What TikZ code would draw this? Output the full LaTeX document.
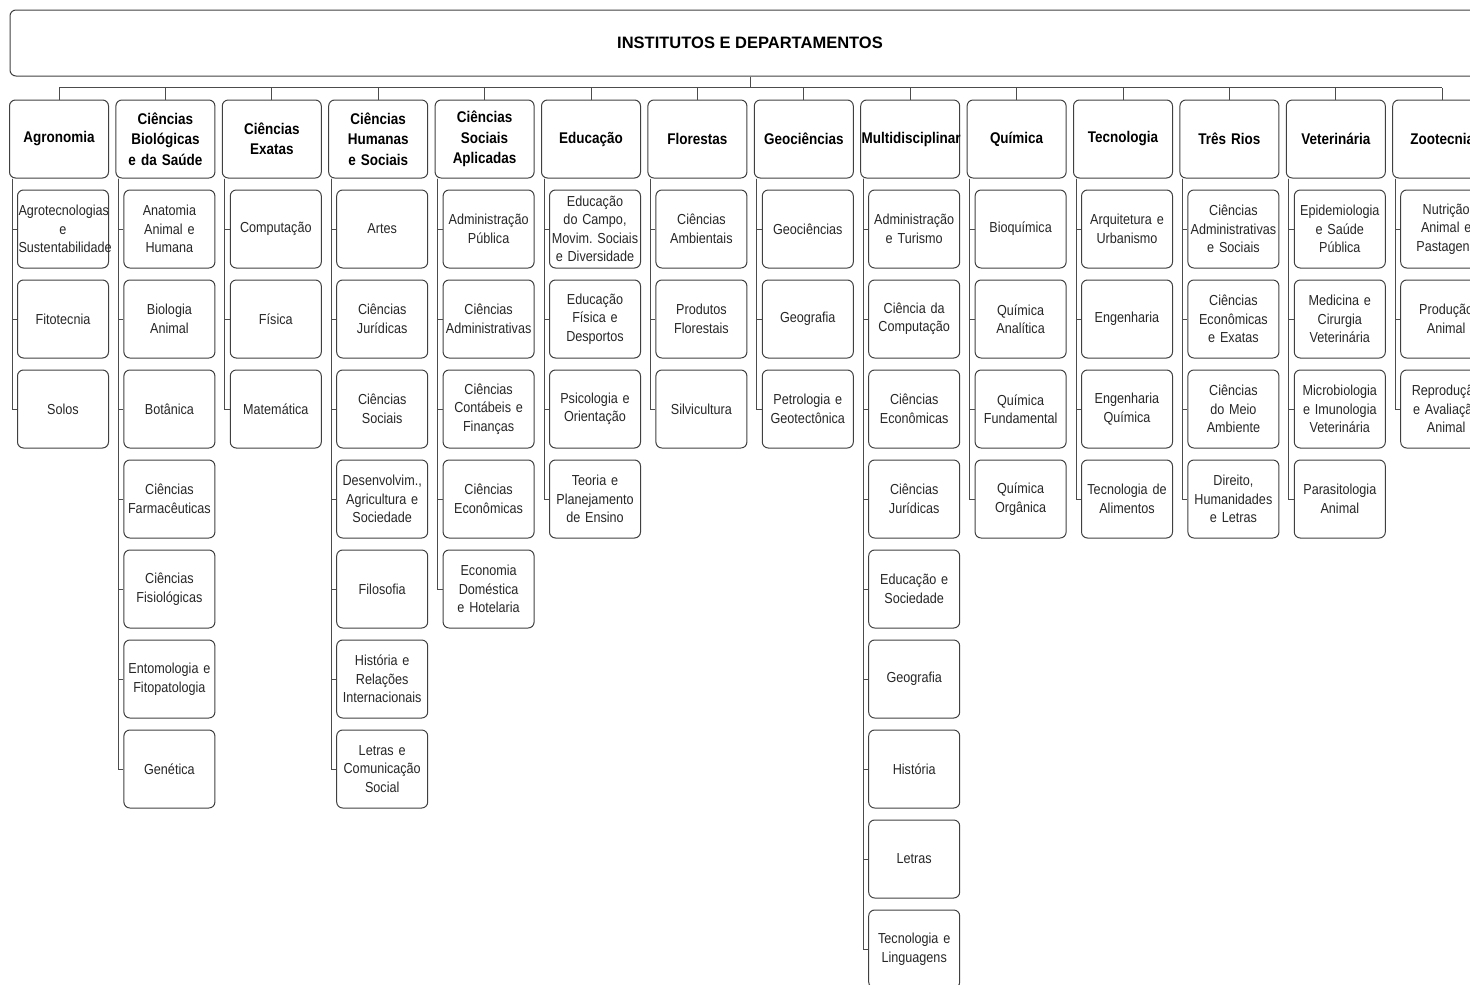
\documentclass[tikz,border=0pt]{standalone}
\usepackage{fontspec}
\setmainfont{Liberation Sans}
\newfontfamily\deptfont{Liberation Sans}[FakeStretch=0.87,WordSpace=0.75]
\frenchspacing

\tikzset{
  caixa/.style={draw=black!75, line width=1pt, rounded corners=6pt,
    inner sep=1pt, align=center, minimum height=78pt},
  instituto/.style={caixa, text width=97pt,
    font=\deptfont\bfseries\fontsize{15.5}{20.5}\selectfont},
  depto/.style={caixa, text width=89pt, text=black!85,
    font=\deptfont\fontsize{14.5}{18.5}\selectfont},
  ligacao/.style={black!70, line width=0.9pt}
}

\begin{document}
\begin{tikzpicture}[x=1pt,y=-1pt]
    \useasboundingbox (0,0) rectangle (1470,985);
    \clip (0,0) rectangle (1470,985);

    % Top box
    \node[caixa, minimum width=1480pt, minimum height=66pt,
          font=\bfseries\fontsize{16.5}{20}\selectfont] (topo) at (750,43)
          {INSTITUTOS E DEPARTAMENTOS};

    % Institutes and their departments
    \foreach \inst/\deps [count=\i] in {
        {Agronomia}/{{Agrotecnologias\\e\\Sustentabilidade},{Fitotecnia},{Solos}},
        {Ciências\\Biológicas\\e da Saúde}/{{Anatomia\\Animal e\\Humana},{Biologia\\Animal},{Botânica},{Ciências\\Farmacêuticas},{Ciências\\Fisiológicas},{Entomologia e\\Fitopatologia},{Genética}},
        {Ciências\\Exatas}/{{Computação},{Física},{Matemática}},
        {Ciências\\Humanas\\e Sociais}/{{Artes},{Ciências\\Jurídicas},{Ciências\\Sociais},{Desenvolvim.,\\Agricultura e\\Sociedade},{Filosofia},{História e\\Relações\\Internacionais},{Letras e\\Comunicação\\Social}},
        {Ciências\\Sociais\\Aplicadas}/{{Administração\\Pública},{Ciências\\Administrativas},{Ciências\\Contábeis e\\Finanças},{Ciências\\Econômicas},{Economia\\Doméstica\\e Hotelaria}},
        {Educação}/{{Educação\\do Campo,\\Movim. Sociais\\e Diversidade},{Educação\\Física e\\Desportos},{Psicologia e\\Orientação},{Teoria e\\Planejamento\\de Ensino}},
        {Florestas}/{{Ciências\\Ambientais},{Produtos\\Florestais},{Silvicultura}},
        {Geociências}/{{Geociências},{Geografia},{Petrologia e\\Geotectônica}},
        {Multidisciplinar}/{{Administração\\e Turismo},{Ciência da\\Computação},{Ciências\\Econômicas},{Ciências\\Jurídicas},{Educação e\\Sociedade},{Geografia},{História},{Letras},{Tecnologia e\\Linguagens}},
        {Química}/{{Bioquímica},{Química\\Analítica},{Química\\Fundamental},{Química\\Orgânica}},
        {Tecnologia}/{{Arquitetura e\\Urbanismo},{Engenharia},{Engenharia\\Química},{Tecnologia de\\Alimentos}},
        {Três Rios}/{{Ciências\\Administrativas\\e Sociais},{Ciências\\Econômicas\\e Exatas},{Ciências\\do Meio\\Ambiente},{Direito,\\Humanidades\\e Letras}},
        {Veterinária}/{{Epidemiologia\\e Saúde\\Pública},{Medicina e\\Cirurgia\\Veterinária},{Microbiologia\\e Imunologia\\Veterinária},{Parasitologia\\Animal}},
        {Zootecnia}/{{Nutrição\\Animal e\\Pastagens},{Produção\\Animal},{Reprodução\\e Avaliação\\Animal}}%
    }{
        \pgfmathsetmacro{\xc}{59+106.4*(\i-1)}
        \node[instituto] (inst\i) at (\xc,139) {\inst};
        \draw[ligacao] (inst\i.north) -- ++(0,-12);
        \coordinate (eixo\i) at ([xshift=3pt]inst\i.south west);
        \foreach \dep [count=\j] in \deps {
            \pgfmathsetmacro{\yc}{229+90*(\j-1)}
            \node[depto] (dep\i-\j) at (\xc+4,\yc) {\dep};
            \draw[ligacao] (eixo\i) |- (dep\i-\j.west);
        }
    }

    % Bus line under the top box
    \coordinate (barra) at ([yshift=12pt]inst1.north);
    \draw[ligacao] (barra) -- ([yshift=12pt]inst14.north);
    \draw[ligacao] (topo.south) -- (topo.south |- barra);
\end{tikzpicture}
\end{document}
